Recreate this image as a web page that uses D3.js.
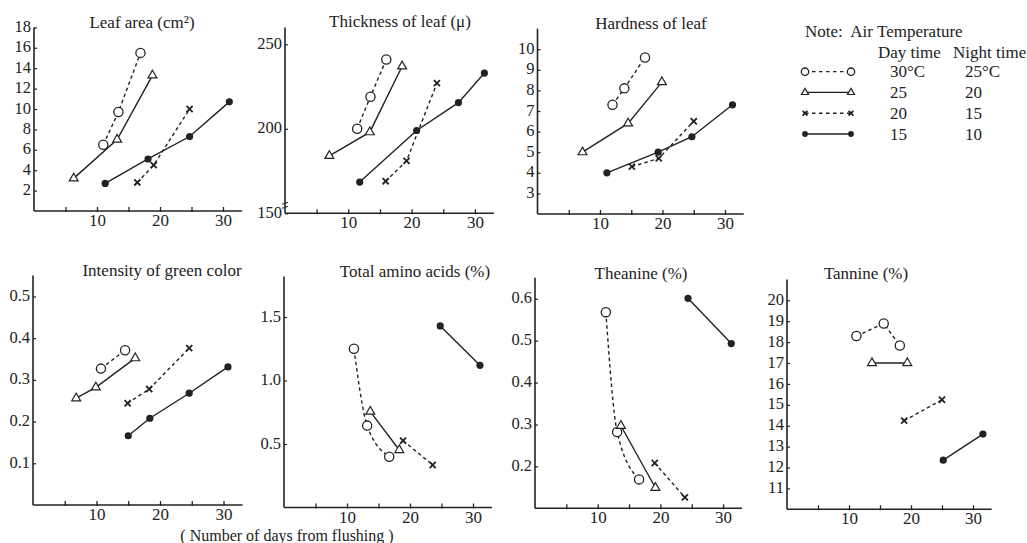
<!DOCTYPE html>
<html><head><meta charset="utf-8">
<script src="https://cdn.jsdelivr.net/npm/d3@7"></script>
<style>
body{margin:0;background:#fff}
svg{display:block}
text{font-family:"Liberation Serif","DejaVu Serif",serif;fill:#222}
</style>
</head><body><svg id="c" width="1027" height="543"></svg>
<script>
// ---------- data ----------
const seriesKeys = ["30/25", "25/20", "20/15", "15/10"];
const seriesMarkers = ["circle", "triangle", "cross", "dot"];
const seriesDashed = [true, false, true, false];
const dayTemps = ["30°C", "25", "20", "15"];
const nightTemps = ["25°C", "20", "15", "10"];
const xTickLabels = [10, 20, 30];
const xTickMarks = [5, 10, 15, 20, 25, 30];

const leafAreaDays = [[11.0, 13.4, 16.9], [6.3, 13.2, 18.8], [16.4, 19.0, 24.7], [11.3, 18.1, 24.7, 31.0]];
const leafAreaVals = [[6.5, 9.7, 15.5], [3.2, 7.0, 13.3], [2.8, 4.5, 10.0], [2.7, 5.1, 7.3, 10.7]];
const leafAreaTicks = [2, 4, 6, 8, 10, 12, 14, 16, 18];

const thicknessDays = [[11.4, 13.5, 16.0], [7.0, 13.4, 18.5], [15.9, 19.2, 24.0], [11.8, 20.8, 27.4, 31.5]];
const thicknessVals = [[200, 219, 241], [184, 198, 237], [169, 181, 227], [168.5, 199, 215.5, 233]];
const thicknessTicks = [150, 200, 250];

const hardnessDays = [[12.0, 13.9, 17.2], [7.2, 14.5, 19.9], [15.1, 19.4, 25.0], [11.1, 19.3, 24.7, 31.2]];
const hardnessVals = [[7.3, 8.1, 9.6], [5.0, 6.4, 8.4], [4.3, 4.7, 6.5], [4.0, 5.0, 5.75, 7.3]];
const hardnessTicks = [3, 4, 5, 6, 7, 8, 9, 10];

const greenDays = [[10.7, 14.5], [6.8, 9.9, 16.1], [14.9, 18.3, 24.6], [15.0, 18.4, 24.6, 30.7]];
const greenVals = [[0.327, 0.371], [0.256, 0.282, 0.352], [0.244, 0.278, 0.376], [0.166, 0.208, 0.268, 0.331]];
const greenTicks = [0.1, 0.2, 0.3, 0.4, 0.5];

const aminoDays = [[11.1, 13.2, 16.7], [13.7, 18.3], [18.9, 23.6], [24.8, 31.1]];
const aminoVals = [[1.25, 0.645, 0.40], [0.755, 0.453], [0.526, 0.335], [1.43, 1.12]];
const aminoTicks = [0.5, 1.0, 1.5];

const theanineDays = [[11.3, 13.1, 16.6], [13.7, 19.2], [19.1, 23.9], [24.4, 31.3]];
const theanineVals = [[0.568, 0.282, 0.169], [0.297, 0.149], [0.208, 0.126], [0.601, 0.493]];
const theanineTicks = [0.2, 0.3, 0.4, 0.5, 0.6];

const tannineDays = [[11.2, 15.6, 18.2], [13.7, 19.4], [18.9, 25.0], [25.2, 31.6]];
const tannineVals = [[18.29, 18.89, 17.84], [17.0, 17.0], [14.24, 15.24], [12.35, 13.6]];
const tannineTicks = [11, 12, 13, 14, 15, 16, 17, 18, 19, 20];

// ---------- layout ----------
const panels = [
  {title: "Leaf area (cm\u00B2)", tx: 142, ty: 28, days: leafAreaDays, vals: leafAreaVals, ticks: leafAreaTicks,
   x0: 34, k: 6.3, dom: [0, 18], rng: [211, 27.4], fmt: d3.format("d"), curved: false},
  {title: "Thickness of leaf (\u03BC)", tx: 400, ty: 27, days: thicknessDays, vals: thicknessVals, ticks: thicknessTicks,
   x0: 285, k: 6.33, dom: [150, 260], rng: [213.3, 27.4], fmt: d3.format("d"), curved: false, brk: true},
  {title: "Hardness of leaf", tx: 651, ty: 29, days: hardnessDays, vals: hardnessVals, ticks: hardnessTicks,
   x0: 537.5, k: 6.25, dom: [2, 11], rng: [214, 28.6], fmt: d3.format("d"), curved: false},
  {title: "Intensity of green color", tx: 162, ty: 276, days: greenDays, vals: greenVals, ticks: greenTicks,
   x0: 33, k: 6.35, dom: [0, 0.55], rng: [505, 275.6], fmt: d3.format(".1f"), curved: false},
  {title: "Total amino acids (%)", tx: 415, ty: 277, days: aminoDays, vals: aminoVals, ticks: aminoTicks,
   x0: 284, k: 6.3, dom: [0, 1.82], rng: [507.5, 276.4], fmt: d3.format(".1f"), curved: true},
  {title: "Theanine (%)", tx: 641, ty: 279, days: theanineDays, vals: theanineVals, ticks: theanineTicks,
   x0: 535, k: 6.27, dom: [0.1, 0.65], rng: [508.3, 277.8], fmt: d3.format(".1f"), curved: true},
  {title: "Tannine (%)", tx: 866, ty: 279, days: tannineDays, vals: tannineVals, ticks: tannineTicks,
   x0: 787, k: 6.2, dom: [10, 21], rng: [509.3, 279.4], fmt: d3.format("d"), curved: false}
];

const INK = "#222";
const FONT = '"Liberation Serif", "DejaVu Serif", serif';
const svg = d3.select("#c");
svg.append("rect").attr("width", 1027).attr("height", 543).attr("fill", "#fff");

function drawMarker(g, type, x, y, scale) {
  const s = scale || 1;
  if (type === "circle") {
    g.append("circle").attr("cx", x).attr("cy", y).attr("r", 4.6 * s)
      .attr("fill", "#fff").attr("stroke", INK).attr("stroke-width", 1.3);
  } else if (type === "triangle") {
    g.append("path").attr("d", d3.symbol(d3.symbolTriangle, 34 * s * s)())
      .attr("transform", `translate(${x},${y})`)
      .attr("fill", "#fff").attr("stroke", INK).attr("stroke-width", 1.2);
  } else if (type === "cross") {
    g.append("path").attr("d", d3.symbol(d3.symbolTimes, 26 * s * s)())
      .attr("transform", `translate(${x},${y})`)
      .attr("fill", "none").attr("stroke", INK).attr("stroke-width", 1.8);
  } else {
    g.append("circle").attr("cx", x).attr("cy", y).attr("r", 3.6 * s).attr("fill", INK);
  }
}

panels.forEach(p => {
  const g = svg.append("g");
  const x = d3.scaleLinear().domain([0, 33]).range([p.x0, p.x0 + 33 * p.k]);
  const y = d3.scaleLinear().domain(p.dom).range(p.rng);

  // x axis
  const xa = g.append("g").attr("transform", `translate(0,${p.rng[0]})`)
    .call(d3.axisBottom(x).tickValues(xTickMarks).tickSize(-4).tickFormat(""));
  xa.select(".domain").attr("d", `M${x(0)},0H${x(33)}`).attr("stroke", INK).attr("stroke-width", 1.6);
  xa.selectAll(".tick line").attr("stroke", INK).attr("stroke-width", 1.3).attr("y2", -4).attr("y1", 1);
  g.append("g").attr("transform", `translate(0,${p.rng[0]})`)
    .call(d3.axisBottom(x).tickValues(xTickLabels).tickSize(0).tickPadding(3).tickFormat(d3.format("d")))
    .call(a => a.select(".domain").remove())
    .selectAll("text").attr("font-size", 17).attr("fill", INK).attr("font-family", FONT);

  // y axis
  const ya = g.append("g").attr("transform", `translate(${p.x0},0)`)
    .call(d3.axisLeft(y).tickValues(p.ticks).tickSize(-3).tickPadding(3).tickFormat(p.fmt));
  ya.select(".domain").attr("d", `M0,${p.rng[1]}V${p.rng[0]}`).attr("stroke", INK).attr("stroke-width", 1.6);
  ya.selectAll(".tick line").attr("stroke", INK).attr("stroke-width", 1.2);
  ya.selectAll("text").attr("font-size", 16.5).attr("fill", INK).attr("font-family", FONT).attr("dy", "0.25em");

  if (p.brk) {
    g.append("path").attr("d", `M${p.x0 - 3},${p.rng[0] - 9}l6,-2M${p.x0 - 3},${p.rng[0] - 5}l6,-2`)
      .attr("stroke", INK).attr("stroke-width", 1).attr("fill", "none");
  }

  // title
  g.append("text").attr("x", p.tx).attr("y", p.ty).attr("text-anchor", "middle")
    .attr("font-size", 17).text(p.title);

  // series lines
  p.days.forEach((ds, i) => {
    const pts = ds.map((d, j) => [x(d), y(p.vals[i][j])]);
    const line = d3.line().curve(p.curved && i === 0 ? d3.curveMonotoneX : d3.curveLinear);
    g.append("path").attr("d", line(pts)).attr("fill", "none").attr("stroke", INK)
      .attr("stroke-width", 1.4).attr("stroke-dasharray", seriesDashed[i] ? "3.5,3" : null);
  });
  // markers
  p.days.forEach((ds, i) => {
    ds.forEach((d, j) => drawMarker(g, seriesMarkers[i], x(d), y(p.vals[i][j])));
  });
});

// axis label
svg.append("text").attr("x", 287).attr("y", 541).attr("text-anchor", "middle")
  .attr("font-size", 16).text("( Number of days from flushing )");

// legend
const lg = svg.append("g");
lg.append("text").attr("x", 805).attr("y", 37).attr("font-size", 17).attr("xml:space", "preserve").text("Note:  Air Temperature");
lg.append("text").attr("x", 878).attr("y", 58).attr("font-size", 17).text("Day time");
lg.append("text").attr("x", 953).attr("y", 58).attr("font-size", 17).text("Night time");
const legendRowY = d3.scalePoint().domain(seriesKeys).range([71.7, 134]);
seriesKeys.forEach((k, i) => {
  const yy = legendRowY(k);
  lg.append("line").attr("x1", 805).attr("x2", 851).attr("y1", yy).attr("y2", yy)
    .attr("stroke", INK).attr("stroke-width", 1.3).attr("stroke-dasharray", seriesDashed[i] ? "3.5,3.5" : null);
  drawMarker(lg, seriesMarkers[i], 805, yy, 0.8);
  drawMarker(lg, seriesMarkers[i], 851, yy, 0.8);
  lg.append("text").attr("x", 890).attr("y", yy + 5.5).attr("font-size", 17).text(dayTemps[i]);
  lg.append("text").attr("x", 965).attr("y", yy + 5.5).attr("font-size", 17).text(nightTemps[i]);
});
</script>
</body></html>
